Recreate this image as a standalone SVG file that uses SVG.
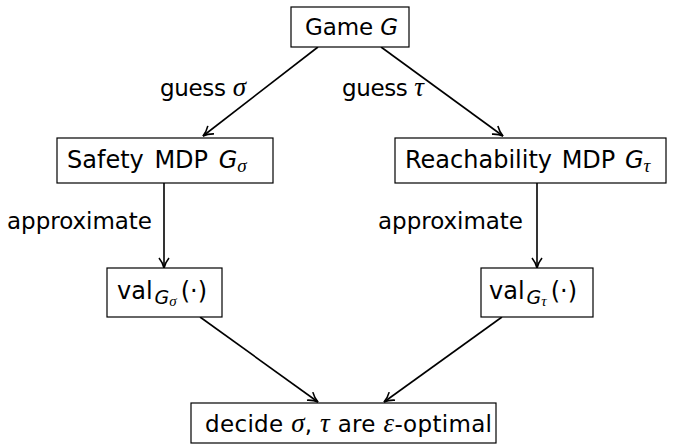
<svg xmlns="http://www.w3.org/2000/svg" width="676" height="447" viewBox="0 0 676 447">
<defs>
<marker id="ah" viewBox="0 0 12 12" refX="11" refY="6" markerWidth="12" markerHeight="12" markerUnits="userSpaceOnUse" orient="auto">
<path d="M1,1 Q6,5 11,6 Q6,7 1,11" fill="none" stroke="#000" stroke-width="1.6"/>
</marker>
<style>
.box{fill:#fff;stroke:#000;stroke-width:1.2}
.t{font-family:"DejaVu Sans","Liberation Sans",sans-serif;font-size:23px;fill:#000}
.m{font-family:"Liberation Serif",serif;font-style:italic;font-size:27px}
.i{font-style:italic}
.s{font-size:19px}
.ss{font-size:15px}
.e{stroke:#000;stroke-width:1.6;fill:none;marker-end:url(#ah)}
</style>
</defs>
<g id="connectors">
<line class="e" x1="318" y1="47" x2="203" y2="136"/>
<line class="e" x1="381" y1="47" x2="503" y2="136"/>
<line class="e" x1="164" y1="183" x2="164" y2="268"/>
<line class="e" x1="537" y1="183" x2="537" y2="268"/>
<line class="e" x1="200" y1="317" x2="318" y2="402"/>
<line class="e" x1="502" y1="317" x2="384" y2="402"/>
<text class="t" x="160" y="96" textLength="86" lengthAdjust="spacing">guess <tspan class="m">σ</tspan></text>
<text class="t" x="342" y="96" textLength="82" lengthAdjust="spacing">guess <tspan class="m">τ</tspan></text>
<text class="t" x="7" y="229" textLength="145" lengthAdjust="spacing">approximate</text>
<text class="t" x="378" y="229" textLength="145" lengthAdjust="spacing">approximate</text>
</g>
<g id="game">
<rect class="box" x="291" y="7" width="118" height="40"/>
<text class="t" x="305" y="35" textLength="93" lengthAdjust="spacing">Game <tspan class="i">G</tspan></text>
</g>
<g id="safety">
<rect class="box" x="57" y="138" width="216" height="45"/>
<text class="t" x="67" y="168" style="font-size:24px;word-spacing:3px">Safety MDP <tspan class="i">G</tspan><tspan class="m s" dy="4">σ</tspan></text>
</g>
<g id="reach">
<rect class="box" x="395" y="138" width="271" height="45"/>
<text class="t" x="405" y="168" style="font-size:24px;word-spacing:2px">Reachability MDP <tspan class="i">G</tspan><tspan class="m s" dy="4">τ</tspan></text>
</g>
<g id="valsigma">
<rect class="box" x="107" y="268" width="115" height="49"/>
<text class="t" x="117" y="299" style="font-size:24px">val<tspan class="i" style="font-size:19px" dx="2" dy="5">G</tspan><tspan class="m ss" dy="2">σ</tspan><tspan dx="4" dy="-7">(·)</tspan></text>
</g>
<g id="valtau">
<rect class="box" x="481" y="268" width="112" height="49"/>
<text class="t" x="489" y="299" style="font-size:24px">val<tspan class="i" style="font-size:19px" dx="2" dy="5">G</tspan><tspan class="m ss" dy="2">τ</tspan><tspan dx="4" dy="-7">(·)</tspan></text>
</g>
<g id="decide">
<rect class="box" x="191" y="403" width="305" height="40"/>
<text class="t" x="205" y="432" textLength="287" lengthAdjust="spacing">decide <tspan class="m">σ</tspan>, <tspan class="m">τ</tspan> are <tspan class="m">ε</tspan>-optimal</text>
</g>
</svg>
